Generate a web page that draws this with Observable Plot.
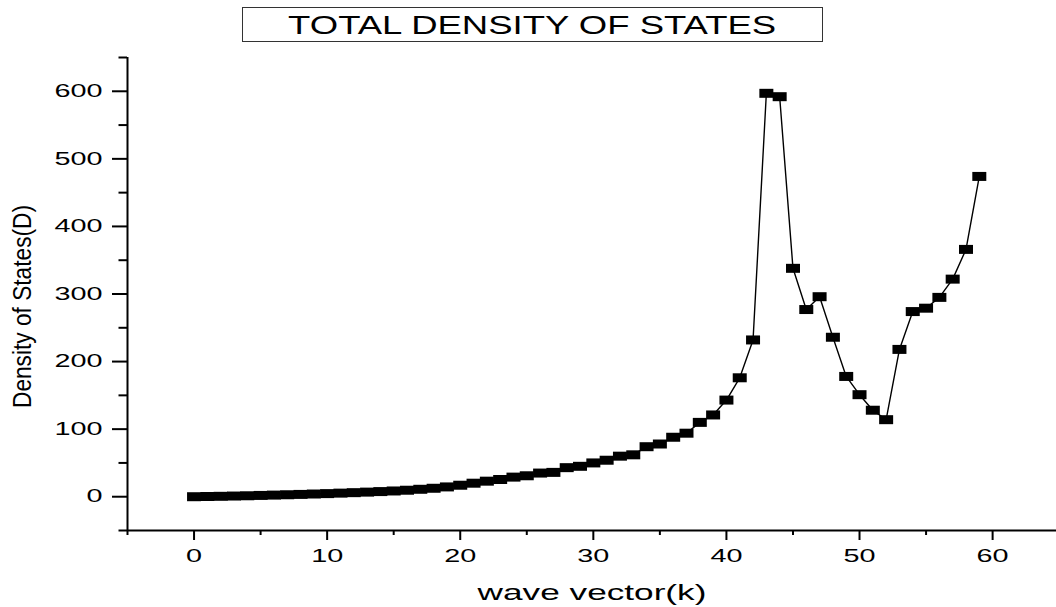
<!DOCTYPE html>
<html>
<head>
<meta charset="utf-8">
<script src="https://cdn.jsdelivr.net/npm/d3@7"></script>
<script src="https://cdn.jsdelivr.net/npm/@observablehq/plot@0.6"></script>
<style>
  html, body { margin: 0; padding: 0; background: #fff; }
  body { width: 1056px; height: 607px; overflow: hidden; font-family: "Liberation Sans", Arial, sans-serif; }
  #title { position: relative; width: 1056px; height: 50px; }
  #title .box { position: absolute; left: 242px; top: 7px; width: 579px; height: 33px; border: 1.5px solid #333;
    text-align: center; line-height: 34px; font-size: 25px; color: #000; }
  #title .box span { display: inline-block; transform: scaleX(1.46); transform-origin: center; }
</style>
</head>
<body>
<div id="title"><div class="box"><span>TOTAL DENSITY OF STATES</span></div></div>
<div id="chart"></div>
<script>
const titleText = "TOTAL DENSITY OF STATES";
const xLabel = "wave vector(k)";
const yLabel = "Density of States(D)";
const k = d3.range(0, 60);
const dos = [0, 0.3, 0.6, 1, 1.4, 1.9, 2.4, 2.9, 3.4, 4,
             4.6, 5.3, 6, 6.8, 7.6, 8.5, 9.6, 11, 12.5, 14.5,
             17, 20, 23, 25.5, 29, 31, 35, 36, 43, 45,
             50, 54, 60, 62, 74, 78, 88, 94, 110, 121,
             143, 176, 232, 597, 592, 338, 277, 296, 236, 178,
             151, 128, 114, 218, 274, 279, 295, 322, 366, 474];
const xMajor = d3.range(0, 61, 10);
const xMinor = d3.range(-5, 61, 10);
const yMajor = d3.range(0, 601, 100);
const yMinor = d3.range(-50, 651, 100);

const data = k.map((kk, i) => ({k: kk, d: dos[i]}));

const rectSymbol = { draw(ctx) { ctx.moveTo(-7, -4.5); ctx.lineTo(7, -4.5); ctx.lineTo(7, 4.5); ctx.lineTo(-7, 4.5); ctx.closePath(); } };

const font = "Liberation Sans, Arial, sans-serif";
const chart = Plot.plot({
  width: 1056,
  height: 557,
  marginLeft: 127,
  marginRight: 0,
  marginTop: 7,
  marginBottom: 77,
  style: { fontFamily: font, color: "#000", background: "#fff", overflow: "visible" },
  x: { domain: [-5, 64.8] },
  y: { domain: [-50, 650] },
  marks: [
    Plot.axisY({ ticks: yMinor, tickSize: 8.5, tickFormat: () => "", label: null, strokeWidth: 2 }),
    Plot.axisY({ ticks: yMajor, tickSize: 15, tickPadding: 10, fontSize: 18, label: null, strokeWidth: 2, tickFormat: d3.format("d") }),
    Plot.axisX({ ticks: xMinor, tickSize: 5, tickFormat: () => "", label: null, strokeWidth: 2 }),
    Plot.axisX({ ticks: xMajor, tickSize: 10, tickPadding: 9, fontSize: 18, label: null, strokeWidth: 2, tickFormat: d3.format("d") }),
    Plot.ruleX([-5], { strokeWidth: 2, stroke: "#000" }),
    Plot.ruleY([-50], { strokeWidth: 2, stroke: "#000" }),
    Plot.line(data, { x: "k", y: "d", stroke: "#000", strokeWidth: 1.4 }),
    Plot.dot(data, { x: "k", y: "d", symbol: rectSymbol, r: 5, fill: "#000", stroke: "none" }),
    Plot.text([xLabel], { frameAnchor: "bottom", dy: 69, fontSize: 22, fill: "#000", text: d => d }),
    Plot.text([yLabel], { frameAnchor: "left", dx: -105, dy: 12.5, rotate: -90, fontSize: 26, fill: "#000", text: d => d })
  ]
});
document.getElementById("chart").appendChild(chart);

function stretch(el, sx) {
  const x = +el.getAttribute("x") || 0, y = +el.getAttribute("y") || 0;
  const t = el.getAttribute("transform") || "";
  el.setAttribute("transform", `${t} translate(${x},${y}) scale(${sx},1) translate(${-x},${-y})`);
}
const svg = d3.select(chart);
svg.selectAll("g[aria-label='y-axis tick label'] text, g[aria-label='x-axis tick label'] text").each(function() { stretch(this, 1.6); });
svg.selectAll("text").filter(function() { return this.textContent === xLabel; }).each(function() { stretch(this, 1.6); });
svg.selectAll("text").filter(function() { return this.textContent === yLabel; })
  .attr("text-anchor", "start")
  .attr("x", -101.5)
  .attr("textLength", 203).attr("lengthAdjust", "spacingAndGlyphs");
</script>
</body>
</html>
